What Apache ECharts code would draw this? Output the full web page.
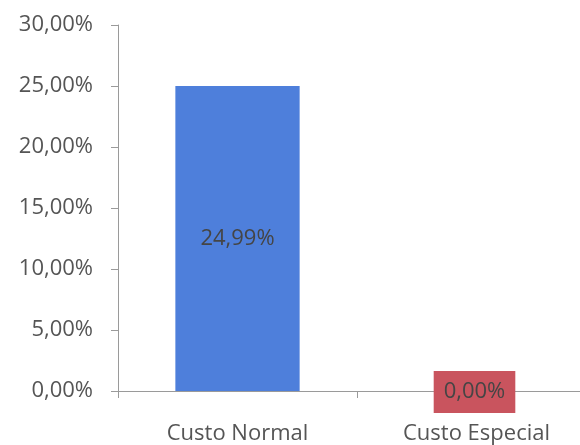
<!DOCTYPE html>
<html><head><meta charset="utf-8">
<script src="https://cdn.jsdelivr.net/npm/echarts@6/dist/echarts.min.js"></script>
<style>html,body{margin:0;padding:0;background:#fff;overflow:hidden;width:580px;height:445px;}#c{width:596px;height:445px;}</style>
</head><body><div id="c"></div>
<script>
const categories = ['Custo Normal', 'Custo Especial'];
const values = [24.99, 0.00];
const barColors = ['#4e7fdb', '#c9545e'];
const yTicks = [0, 5, 10, 15, 20, 25, 30];

const fmt = v => v.toFixed(2).replace('.', ',') + '%';
const font = '"Open Sans", sans-serif';
const chart = echarts.init(document.getElementById('c'));
chart.setOption({
  animation: false,
  grid: { left: 118, right: 0, top: 25, bottom: 53 },
  xAxis: {
    type: 'category', data: categories,
    axisLine: { lineStyle: { color: '#9a9a9a', width: 1 } },
    axisTick: { show: true, length: 7, lineStyle: { color: '#9a9a9a' } },
    axisLabel: { color: '#555555', fontSize: 22, fontFamily: font, margin: 32 }
  },
  yAxis: {
    type: 'value', min: yTicks[0], max: yTicks[yTicks.length - 1], interval: 5,
    axisLine: { show: true, lineStyle: { color: '#9a9a9a' } },
    axisTick: { show: true, length: 7, lineStyle: { color: '#9a9a9a' } },
    splitLine: { show: false },
    axisLabel: { color: '#555555', fontSize: 22, fontFamily: font, margin: 25, formatter: v => fmt(v) }
  },
  series: [{
    type: 'bar', barWidth: '52%',
    data: values.map((v, i) => ({
      value: v,
      itemStyle: { color: barColors[i] },
      label: i === 1 ? { backgroundColor: barColors[i], padding: [10, 10, 10, 10], offset: [-2, 1] } : {}
    })),
    label: {
      show: true, position: 'inside', color: '#454545', fontSize: 22, fontFamily: font,
      formatter: p => fmt(p.value)
    }
  }]
});
</script></body></html>
